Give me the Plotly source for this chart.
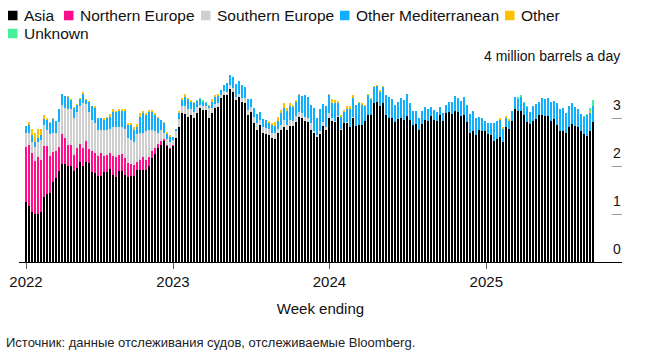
import pandas as pd
import plotly.graph_objects as go

# Weekly flows, million barrels a day (first bar: week ending 2022-01-23)
first_week = "2022-01-23"
n_weeks = 190

asia = [
    1.26, 1.17, 1.04, 0.99, 1.00, 1.04, 1.36, 1.42, 1.44, 1.67,
    1.76, 1.90, 2.04, 2.04, 1.99, 2.01, 1.90, 1.95, 2.09, 2.00,
    2.08, 2.06, 1.88, 1.85, 1.79, 1.79, 1.88, 1.88, 1.94, 1.81,
    1.78, 1.90, 1.90, 1.81, 1.78, 1.79, 1.79, 1.92, 1.92, 1.92,
    1.92, 2.00, 2.16, 2.26, 2.37, 2.44, 2.53, 2.42, 2.35, 2.42,
    2.58, 2.81, 3.10, 3.08, 3.03, 3.06, 3.01, 3.11, 3.20, 3.17,
    3.17, 3.01, 3.10, 3.20, 3.22, 3.41, 3.48, 3.48, 3.60, 3.55,
    3.38, 3.43, 3.34, 3.32, 3.06, 3.13, 2.90, 2.75, 2.85, 2.68,
    2.66, 2.65, 2.58, 2.56, 2.68, 2.75, 2.82, 2.75, 2.83, 2.83,
    2.92, 3.03, 2.99, 2.94, 2.92, 2.76, 2.69, 2.61, 2.67, 2.83,
    2.74, 3.01, 2.94, 2.92, 3.03, 2.76, 2.89, 2.90, 2.81, 3.01,
    2.83, 2.85, 2.85, 2.94, 3.06, 3.06, 3.32, 3.34, 3.25, 3.31,
    3.06, 3.01, 2.99, 2.92, 2.97, 3.01, 2.96, 3.04, 2.96, 2.85,
    2.88, 2.74, 2.88, 2.96, 2.94, 3.04, 2.96, 2.94, 3.06, 2.94,
    3.11, 3.13, 3.08, 3.15, 3.12, 3.05, 3.06, 2.91, 2.69, 2.72,
    2.65, 2.74, 2.73, 2.72, 2.67, 2.65, 2.53, 2.56, 2.61, 2.49,
    2.82, 2.78, 2.94, 3.19, 3.15, 3.15, 3.06, 2.92, 2.87, 2.94,
    2.97, 3.06, 3.06, 3.05, 3.04, 2.94, 2.98, 2.85, 2.73, 2.72,
    2.68, 2.81, 2.88, 2.83, 2.81, 2.73, 2.66, 2.63, 2.73, 2.91,
]

northern_europe = [
    1.14, 1.27, 1.24, 1.12, 1.18, 1.09, 1.06, 1.00, 0.77, 0.63,
    0.55, 0.49, 0.63, 0.54, 0.45, 0.43, 0.32, 0.43, 0.37, 0.38,
    0.45, 0.29, 0.43, 0.43, 0.42, 0.49, 0.33, 0.35, 0.34, 0.40,
    0.40, 0.33, 0.35, 0.35, 0.28, 0.25, 0.23, 0.17, 0.21, 0.26,
    0.21, 0.18, 0.15, 0.11, 0.09, 0.09, 0.03, 0.02, 0.02, 0.02,
    0.01, 0, 0, 0, 0, 0, 0, 0, 0, 0,
    0, 0, 0, 0, 0, 0, 0, 0, 0, 0,
    0, 0, 0, 0, 0, 0, 0, 0, 0, 0,
    0, 0, 0, 0, 0, 0, 0, 0, 0, 0,
    0, 0, 0, 0, 0, 0, 0, 0, 0, 0,
    0, 0, 0, 0, 0, 0, 0, 0, 0, 0,
    0, 0, 0, 0, 0, 0, 0, 0, 0, 0,
    0, 0, 0, 0, 0, 0, 0, 0, 0, 0,
    0, 0, 0, 0, 0, 0, 0, 0, 0, 0,
    0, 0, 0, 0, 0, 0, 0, 0, 0, 0,
    0, 0, 0, 0, 0, 0, 0, 0, 0, 0,
    0, 0, 0, 0, 0, 0, 0, 0, 0, 0,
    0, 0, 0, 0, 0, 0, 0, 0, 0, 0,
    0, 0, 0, 0, 0, 0, 0, 0, 0, 0,
]

southern_europe = [
    0.28, 0.24, 0.23, 0.29, 0.31, 0.41, 0.43, 0.34, 0.45, 0.39,
    0.37, 0.52, 0.60, 0.62, 0.74, 0.74, 0.77, 0.75, 0.78, 0.93,
    0.76, 0.78, 0.65, 0.61, 0.55, 0.48, 0.53, 0.53, 0.50, 0.60,
    0.63, 0.59, 0.57, 0.62, 0.52, 0.50, 0.49, 0.58, 0.55, 0.51,
    0.59, 0.57, 0.43, 0.35, 0.23, 0.22, 0.13, 0.12, 0.14, 0.10,
    0.13, 0.16, 0.14, 0.16, 0.15, 0.12, 0.12, 0.11, 0.07, 0.07,
    0.07, 0.19, 0.10, 0.09, 0.09, 0.07, 0.08, 0.07, 0.09, 0.07,
    0.06, 0.08, 0.07, 0.09, 0.11, 0.09, 0.13, 0.14, 0.11, 0.14,
    0.13, 0.13, 0.11, 0.13, 0.10, 0.10, 0.14, 0.10, 0.13, 0.11,
    0.13, 0.10, 0.11, 0.09, 0.09, 0.13, 0.04, 0.04, 0.05, 0.09,
    0.08, 0.10, 0.05, 0.02, 0.02, 0.01, 0.01, 0.01, 0.01, 0.01,
    0, 0, 0, 0, 0, 0, 0, 0, 0, 0,
    0, 0, 0, 0, 0, 0, 0, 0, 0, 0,
    0, 0, 0, 0, 0, 0, 0, 0, 0, 0,
    0, 0, 0, 0, 0, 0, 0, 0, 0, 0,
    0, 0, 0, 0, 0, 0, 0, 0, 0, 0,
    0, 0, 0, 0, 0, 0, 0, 0, 0, 0,
    0, 0, 0, 0, 0, 0, 0, 0, 0, 0,
    0, 0, 0, 0, 0, 0, 0, 0, 0, 0,
]

other_mediterranean = [
    0.15, 0.17, 0.14, 0.11, 0.09, 0.11, 0.12, 0.20, 0.23, 0.28,
    0.26, 0.27, 0.23, 0.26, 0.25, 0.20, 0.21, 0.14, 0.15, 0.20,
    0.09, 0.21, 0.28, 0.31, 0.23, 0.23, 0.22, 0.23, 0.25, 0.32,
    0.32, 0.33, 0.33, 0.37, 0.27, 0.31, 0.25, 0.15, 0.35, 0.42,
    0.34, 0.38, 0.38, 0.34, 0.30, 0.21, 0.21, 0.11, 0.10, 0.07,
    0.06, 0.14, 0.14, 0.20, 0.21, 0.15, 0.18, 0.13, 0.12, 0.09,
    0.07, 0.04, 0.13, 0.15, 0.15, 0.10, 0.13, 0.17, 0.20, 0.24,
    0.27, 0.27, 0.28, 0.24, 0.22, 0.18, 0.17, 0.19, 0.16, 0.15,
    0.17, 0.12, 0.16, 0.14, 0.16, 0.25, 0.24, 0.30, 0.29, 0.28,
    0.29, 0.35, 0.36, 0.45, 0.43, 0.38, 0.47, 0.34, 0.47, 0.37,
    0.42, 0.37, 0.33, 0.37, 0.26, 0.26, 0.22, 0.28, 0.37, 0.40,
    0.44, 0.46, 0.42, 0.31, 0.41, 0.33, 0.32, 0.33, 0.30, 0.34,
    0.42, 0.42, 0.40, 0.35, 0.37, 0.41, 0.42, 0.47, 0.35, 0.30,
    0.27, 0.25, 0.27, 0.26, 0.25, 0.18, 0.21, 0.19, 0.16, 0.17,
    0.16, 0.20, 0.25, 0.31, 0.30, 0.31, 0.37, 0.37, 0.39, 0.43,
    0.34, 0.29, 0.28, 0.22, 0.23, 0.25, 0.36, 0.38, 0.35, 0.29,
    0.17, 0.16, 0.21, 0.24, 0.25, 0.28, 0.25, 0.30, 0.26, 0.31,
    0.32, 0.28, 0.36, 0.35, 0.38, 0.39, 0.38, 0.46, 0.45, 0.48,
    0.43, 0.44, 0.43, 0.39, 0.38, 0.35, 0.37, 0.44, 0.38, 0.33,
]

other = [
    0, 0.06, 0.13, 0.18, 0.20, 0.13, 0.09, 0.03, 0.03, 0.04,
    0, 0, 0, 0, 0.03, 0.02, 0.02, 0.02, 0.02, 0.03,
    0.02, 0.02, 0.02, 0.04, 0.02, 0, 0.03, 0.04, 0.05, 0.05,
    0.02, 0.03, 0.03, 0.03, 0.05, 0.04, 0.05, 0.06, 0.07, 0.04,
    0.05, 0.04, 0.05, 0.04, 0.04, 0, 0.02, 0.03, 0.04, 0,
    0, 0.03, 0.03, 0.05, 0.03, 0.05, 0.03, 0, 0, 0,
    0, 0.03, 0.06, 0.04, 0.03, 0, 0, 0, 0, 0,
    0, 0, 0, 0, 0, 0, 0, 0, 0, 0,
    0, 0.04, 0.04, 0.09, 0.09, 0.07, 0.12, 0.05, 0.06, 0.05,
    0.04, 0.02, 0, 0, 0, 0, 0, 0, 0, 0,
    0.02, 0.03, 0.07, 0.07, 0.05, 0.03, 0.05, 0.05, 0.05, 0.05,
    0, 0.02, 0.04, 0.03, 0.03, 0.02, 0.03, 0.02, 0.03, 0.02,
    0, 0, 0, 0, 0, 0, 0, 0, 0, 0,
    0, 0, 0, 0, 0, 0, 0, 0, 0, 0,
    0, 0, 0, 0, 0, 0, 0, 0, 0, 0,
    0, 0, 0, 0, 0, 0, 0, 0, 0.03, 0.04,
    0.05, 0.04, 0, 0, 0, 0, 0, 0, 0, 0,
    0, 0, 0, 0, 0, 0, 0, 0, 0, 0,
    0, 0, 0, 0, 0, 0, 0, 0, 0.04, 0.02,
]

unknown = [
    0, 0, 0, 0, 0, 0, 0, 0, 0, 0,
    0, 0, 0, 0, 0, 0, 0, 0, 0, 0,
    0, 0, 0, 0, 0, 0, 0, 0, 0, 0,
    0, 0, 0, 0, 0, 0, 0, 0, 0, 0,
    0, 0, 0, 0, 0, 0, 0, 0, 0, 0,
    0, 0, 0, 0, 0, 0, 0, 0.03, 0.03, 0.05,
    0.02, 0, 0, 0, 0, 0, 0, 0, 0, 0,
    0, 0, 0, 0, 0, 0, 0, 0, 0, 0,
    0, 0, 0, 0, 0, 0, 0, 0, 0, 0,
    0, 0, 0, 0, 0, 0, 0, 0, 0, 0,
    0, 0, 0, 0, 0, 0, 0, 0, 0, 0,
    0, 0, 0, 0, 0, 0, 0, 0, 0, 0,
    0, 0, 0, 0, 0, 0, 0, 0, 0, 0,
    0, 0, 0, 0, 0, 0, 0, 0, 0, 0,
    0, 0, 0, 0, 0, 0, 0, 0, 0, 0,
    0, 0, 0, 0, 0, 0, 0, 0, 0, 0,
    0, 0, 0, 0, 0.04, 0.04, 0.02, 0.03, 0, 0,
    0, 0, 0, 0, 0, 0, 0, 0, 0, 0,
    0, 0, 0, 0, 0, 0, 0.02, 0.02, 0.05, 0.12,
]

year_ticks = [first_week, "2023-01-01", "2024-01-01", "2025-01-01"]
year_labels = ["2022", "2023", "2024", "2025"]
y_ticks = [0, 1, 2, 3, 4]
y_labels = ["0", "1", "2", "3", ""]
unit_label = "4 million barrels a day"

weeks = pd.date_range(first_week, periods=n_weeks, freq="7D")

series = [
    ("Asia", asia, "#000000"),
    ("Northern Europe", northern_europe, "#ff0d8a"),
    ("Southern Europe", southern_europe, "#cfcfcf"),
    ("Other Mediterranean", other_mediterranean, "#10b0ff"),
    ("Other", other, "#ffc000"),
    ("Unknown", unknown, "#47f19b"),
]

FONT = "Liberation Sans, Arial, sans-serif"
W, H = 658, 356
PX_L, PX_R, PX_T, PX_B = 19, 622, 70, 262   # plot area on screen
ML, MT = PX_L, PX_T
PW, PH = PX_R - PX_L, PX_B - PX_T
MR, MB = W - ML - PW, H - MT - PH


def px_x(px):
    return (px - PX_L) / PW


def px_y(py):
    return (PX_B - py) / PH


fig = go.Figure()
for name, vals, col in series:
    fig.add_trace(go.Bar(
        x=weeks, y=vals, name=name, marker_color=col,
        marker_line_width=0, showlegend=False, hoverinfo="skip",
    ))

# Key above the chart: (text start px, row centre px)
key_pos = [(23, 15.5), (79, 15.5), (216, 15.5), (355, 15.5), (520, 15.5), (23, 33.5)]
shapes, annotations = [], []
for (name, _, col), (tx, ty) in zip(series, key_pos):
    shapes.append(dict(
        type="rect", xref="paper", yref="paper",
        x0=px_x(tx - 15), x1=px_x(tx - 5.5),
        y0=px_y(ty + 4.75), y1=px_y(ty - 4.75),
        fillcolor=col, line_width=0,
    ))
    annotations.append(dict(
        text=name, xref="paper", yref="paper",
        x=px_x(tx - 1), y=px_y(ty), xanchor="left", yanchor="middle",
        showarrow=False, font=dict(family=FONT, size=15.5, color="#111"),
    ))

annotations.append(dict(
    text=unit_label, xref="paper", yref="paper",
    x=px_x(622), y=px_y(55.5), xanchor="right", yanchor="middle",
    showarrow=False, font=dict(family=FONT, size=14, color="#111"),
))
annotations.append(dict(
    text="Источник: данные отслеживания судов, отслеживаемые Bloomberg.",
    xref="paper", yref="paper", x=px_x(4), y=px_y(342),
    xanchor="left", yanchor="middle", showarrow=False,
    font=dict(family=FONT, size=13, color="#222"),
))

# 3 px per week on screen, first bar centred at x = 26
px_per_week = 3.0
x_lo = weeks[0] - pd.Timedelta(days=7 * (26 - PX_L) / px_per_week)
x_hi = x_lo + pd.Timedelta(days=7 * PW / px_per_week)

fig.update_layout(
    width=W, height=H,
    margin=dict(l=ML, r=MR, t=MT, b=MB, autoexpand=False),
    paper_bgcolor="white", plot_bgcolor="white",
    barmode="stack", bargap=0.3,
    font=dict(family=FONT, color="#111"),
    showlegend=False, hovermode=False,
    xaxis=dict(
        type="date", range=[x_lo, x_hi],
        tickvals=year_ticks, ticktext=year_labels,
        ticks="outside", ticklen=6, tickcolor="#555", tickwidth=1,
        showline=True, linecolor="#000", linewidth=1,
        showgrid=False, zeroline=False,
        tickfont=dict(family=FONT, size=15, color="#111"),
        title=dict(text="Week ending", standoff=14,
                   font=dict(family=FONT, size=15, color="#111")),
    ),
    yaxis=dict(
        range=[0, 4], side="right",
        tickvals=y_ticks, ticktext=y_labels,
        ticks="inside", ticklen=10, tickcolor="#999", tickwidth=1,
        ticklabelposition="inside", ticklabelshift=-13, ticklabelstandoff=-9,
        showline=False, showgrid=False, zeroline=False,
        tickfont=dict(family=FONT, size=14, color="#111"),
    ),
    shapes=shapes,
    annotations=annotations,
)

# the page's default 8px body margin would offset the figure
fig.write_html(
    "out.html",
    config={"displayModeBar": False, "staticPlot": True},
    post_script="document.body.style.margin = '0px';",
)
